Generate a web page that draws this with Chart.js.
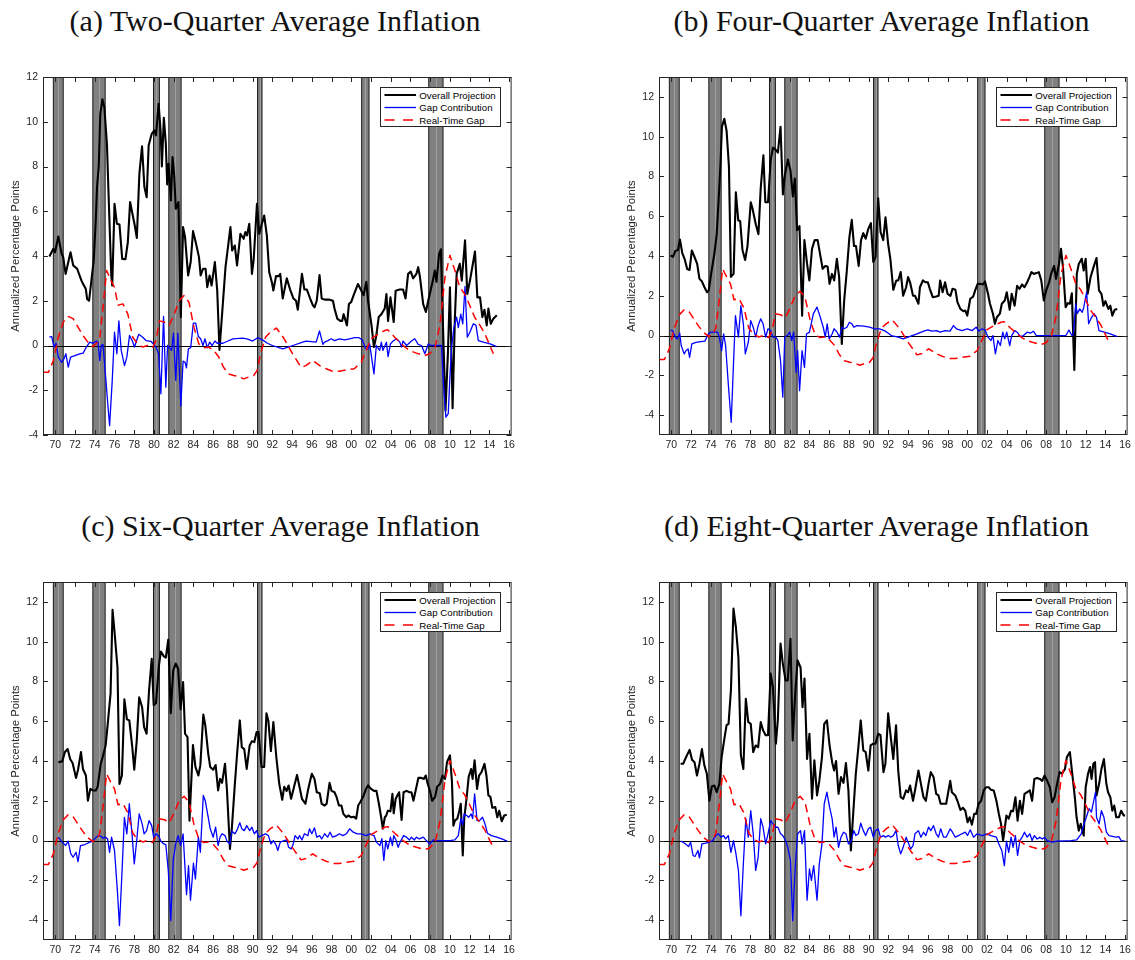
<!DOCTYPE html>
<html>
<head>
<meta charset="utf-8">
<script src="https://cdn.jsdelivr.net/npm/chart.js@4.4.1/dist/chart.umd.min.js"></script>
<style>
html,body{margin:0;padding:0;background:#fff;}
body{width:1135px;height:960px;overflow:hidden;position:relative;}
canvas{position:absolute;}
.ttl{position:absolute;font-family:"Liberation Serif","Times New Roman",serif;font-size:30px;line-height:1;color:#111;white-space:nowrap;transform:translateX(-50%);}
svg.leg{position:absolute;overflow:visible;}
</style>
</head>
<body>
<script>
// ---------------- data ----------------
const xTickValues = [1970,1972,1974,1976,1978,1980,1982,1984,1986,1988,1990,1992,1994,1996,1998,2000,2002,2004,2006,2008,2010,2012,2014,2016];
const xTickLabels = ['70','72','74','76','78','80','82','84','86','88','90','92','94','96','98','00','02','04','06','08','10','12','14','16'];
const yTicks = [-4,-2,0,2,4,6,8,10,12];
const seriesNames = ['Overall Projection','Gap Contribution','Real-Time Gap'];
const panelTitles = ['(a) Two-Quarter Average Inflation','(b) Four-Quarter Average Inflation','(c) Six-Quarter Average Inflation','(d) Eight-Quarter Average Inflation'];
const yAxisTitle = 'Annualized Percentage Points';

const recessions = [[1969.8,1970.8],[1973.8,1975.05],[1979.95,1980.55],[1981.5,1982.75],[1990.5,1990.95],[2001.05,2001.8],[2007.85,2009.3]];

const realTimeGap = [[1968.75,-1.2],[1969.3,-1.2],[1969.8,-0.67],[1970.3,0.37],[1970.8,1.04],[1971.3,1.3],[1971.8,1.2],[1972.3,0.82],[1972.8,0.45],[1973.3,0.15],[1973.8,-0.05],[1974.3,0.15],[1974.5,0.37],[1974.8,1.56],[1975.2,3.35],[1975.65,2.9],[1976.0,2.6],[1976.35,1.8],[1976.85,1.86],[1977.35,1.4],[1977.85,0.37],[1978.35,0.07],[1978.85,-0.07],[1979.35,0],[1979.85,-0.1],[1980.2,0.22],[1980.55,1.1],[1981.05,1.05],[1981.55,0.9],[1982.05,1.4],[1982.55,2.0],[1983.05,2.23],[1983.55,1.93],[1984.05,0.82],[1984.55,0.07],[1985.05,-0.1],[1985.55,-0.07],[1986.05,-0.22],[1986.55,-0.5],[1987.05,-0.97],[1987.55,-1.27],[1988.1,-1.34],[1988.6,-1.39],[1989.1,-1.49],[1989.6,-1.41],[1990.1,-1.34],[1990.45,-1.12],[1990.8,-0.37],[1991.3,0.37],[1991.8,0.6],[1992.4,0.78],[1992.8,0.55],[1993.2,0.3],[1994.05,-0.37],[1994.9,-0.97],[1995.4,-0.9],[1996.1,-0.67],[1996.8,-0.9],[1997.45,-1.04],[1998.1,-1.15],[1998.8,-1.15],[1999.5,-1.09],[2000.3,-1.04],[2001.0,-0.75],[2001.5,-0.22],[2002.0,0.3],[2002.7,0.5],[2003.4,0.67],[2003.7,0.7],[2004.4,0.37],[2005.25,0],[2005.9,-0.22],[2006.6,-0.34],[2007.45,-0.45],[2007.95,-0.37],[2008.5,-0.07],[2009.0,0.97],[2009.5,3.06],[2010.0,4.03],[2010.5,3.36],[2011.0,2.6],[2011.5,2.3],[2012.0,1.8],[2012.5,1.27],[2013.05,0.9],[2013.55,0.52],[2014.05,0],[2014.4,-0.37]];

const overallA = [[1969.4,3.98],[1969.8,4.32],[1969.97,4.17],[1970.3,4.87],[1970.64,4.1],[1970.8,3.95],[1971.04,3.2],[1971.54,4.17],[1971.81,3.58],[1972.21,3.43],[1972.65,2.9],[1972.82,2.75],[1973.09,2.53],[1973.22,2.08],[1973.42,2.0],[1973.89,3.8],[1974.1,5.6],[1974.23,7.1],[1974.4,8.0],[1974.56,10.36],[1974.77,11.0],[1974.97,10.65],[1975.23,9.0],[1975.44,6.18],[1975.67,3.13],[1975.77,2.68],[1976.0,6.33],[1976.24,5.44],[1976.5,5.41],[1976.78,3.87],[1977.11,3.86],[1977.35,4.62],[1977.58,6.41],[1977.85,5.81],[1978.02,5.44],[1978.26,4.81],[1978.52,7.67],[1978.79,8.9],[1979.03,7.08],[1979.26,6.63],[1979.46,8.94],[1979.77,9.46],[1980.03,9.61],[1980.2,9.39],[1980.47,10.8],[1980.67,9.61],[1980.8,8.0],[1981.0,10.18],[1981.2,9.02],[1981.34,7.2],[1981.48,8.12],[1981.71,6.48],[1981.88,8.42],[1982.05,7.6],[1982.21,6.11],[1982.48,6.41],[1982.72,1.27],[1982.95,5.29],[1983.15,4.84],[1983.46,3.13],[1983.72,3.73],[1983.96,5.11],[1984.23,4.62],[1984.56,3.95],[1984.73,3.13],[1984.97,3.43],[1985.23,3.43],[1985.4,2.61],[1985.64,3.13],[1985.84,2.68],[1986.17,3.73],[1986.41,2.46],[1986.64,-0.2],[1987.25,3.5],[1987.58,4.69],[1987.75,5.29],[1987.92,4.25],[1988.19,4.47],[1988.42,3.58],[1988.76,4.99],[1989.09,4.77],[1989.26,5.07],[1989.43,4.92],[1989.66,5.44],[1989.93,3.2],[1990.1,3.8],[1990.44,6.33],[1990.67,4.99],[1990.94,5.44],[1991.17,5.81],[1991.44,4.92],[1991.68,3.28],[1991.95,2.83],[1992.1,2.46],[1992.37,3.1],[1992.64,3.1],[1992.8,3.2],[1993.05,2.1],[1993.46,3.0],[1993.8,2.5],[1994.14,2.1],[1994.4,2.0],[1994.58,1.6],[1995.0,3.2],[1995.25,2.5],[1995.5,2.5],[1995.83,2.1],[1996.1,1.8],[1996.27,1.7],[1996.5,2.0],[1996.78,3.15],[1997.0,2.1],[1997.3,2.05],[1997.8,2.05],[1998.14,2.0],[1998.3,1.65],[1998.58,1.2],[1998.88,1.1],[1999.08,1.1],[1999.22,1.4],[1999.36,1.2],[1999.56,0.9],[1999.76,1.85],[2000.0,1.95],[2000.24,2.25],[2000.68,2.75],[2001.02,2.45],[2001.25,2.25],[2001.53,2.85],[2001.7,2.0],[2002.03,0.97],[2002.3,-0.07],[2002.54,0.45],[2002.78,1.27],[2003.05,1.4],[2003.39,1.65],[2003.56,2.3],[2003.73,1.1],[2003.97,2.15],[2004.3,1.05],[2004.5,2.45],[2004.9,2.5],[2005.25,2.5],[2005.5,2.1],[2005.76,3.2],[2006.03,3.3],[2006.27,3.0],[2006.6,3.2],[2006.78,3.5],[2006.95,3.1],[2007.29,1.85],[2007.56,1.5],[2007.8,2.0],[2008.24,2.85],[2008.47,3.35],[2008.64,2.85],[2008.9,4.1],[2009.08,4.3],[2009.3,0.8],[2009.55,-2.9],[2009.8,-0.3],[2010.0,2.6],[2010.27,-2.8],[2010.5,1.2],[2010.68,3.2],[2011.0,3.65],[2011.2,2.9],[2011.53,4.7],[2011.76,2.3],[2012.03,2.9],[2012.54,4.2],[2012.78,2.15],[2013.05,2.15],[2013.29,1.27],[2013.5,1.6],[2013.73,0.9],[2013.9,1.65],[2014.14,0.97],[2014.4,1.2],[2014.75,1.35]];

const gapA = [[1969.4,0.37],[1969.63,0.4],[1969.87,-0.07],[1970.07,0.1],[1970.3,-0.52],[1970.64,-0.75],[1970.87,-0.6],[1971.07,-0.37],[1971.31,-0.97],[1971.54,-0.52],[1971.98,-0.45],[1972.48,-0.37],[1972.82,-0.34],[1973.15,-0.07],[1973.49,0.15],[1973.83,0.1],[1974.16,0.2],[1974.33,0.15],[1974.5,-0.67],[1974.66,0],[1974.83,0.05],[1975.1,-1.4],[1975.34,-2.75],[1975.5,-3.58],[1975.77,-1.56],[1976.0,0.6],[1976.24,-0.37],[1976.44,1.1],[1976.68,-0.22],[1977.01,-0.9],[1977.25,-0.52],[1977.52,0.45],[1977.79,0.22],[1978.02,-0.07],[1978.46,0.5],[1978.86,0.37],[1979.19,0.22],[1979.7,0.18],[1979.93,0.07],[1980.2,-0.07],[1980.47,-0.37],[1980.7,-2.16],[1980.97,1.3],[1981.2,-1.86],[1981.38,0],[1981.78,-0.22],[1981.98,0.55],[1982.21,-1.56],[1982.42,0.55],[1982.72,-2.7],[1982.95,-0.7],[1983.15,-0.75],[1983.29,-1.0],[1983.49,-0.15],[1983.72,-0.1],[1983.99,1.0],[1984.23,1.0],[1984.5,0.4],[1984.73,0.3],[1984.97,0.0],[1985.17,0.3],[1985.4,-0.1],[1985.64,0.15],[1985.9,0.0],[1986.17,0.2],[1986.41,0.1],[1987.0,0.1],[1987.5,0.2],[1988.0,0.3],[1989.0,0.33],[1989.5,0.28],[1990.0,0.2],[1990.5,0.35],[1991.0,0.25],[1991.5,0.1],[1992.0,0.0],[1993.05,-0.15],[1994.07,0],[1995.08,0.15],[1995.42,0.2],[1996.44,0.15],[1996.78,0.65],[1997.12,0.05],[1997.29,0.15],[1997.63,0.22],[1997.97,0.3],[1998.3,0.22],[1998.81,0.3],[1999.32,0.25],[1999.83,0.3],[2000.34,0.35],[2000.78,0.35],[2001.12,0.25],[2001.46,-0.15],[2001.7,-0.15],[2001.86,0.07],[2002.3,-1.27],[2002.54,0],[2002.88,-0.22],[2003.05,0.15],[2003.2,-0.22],[2003.56,0.15],[2003.73,-0.5],[2003.97,0.07],[2004.24,0.2],[2004.58,0.3],[2004.92,0.15],[2005.08,-0.07],[2005.25,0.2],[2005.6,0],[2006.1,0.2],[2006.44,0.3],[2006.78,0.05],[2007.12,0],[2007.46,-0.37],[2007.8,0.07],[2008.07,0],[2009.15,0],[2009.32,-1.56],[2009.59,-3.2],[2009.83,-3.05],[2010.0,-1.4],[2010.17,-0.07],[2010.4,0.8],[2010.68,1.27],[2010.85,0.8],[2011.1,1.4],[2011.3,0.97],[2011.53,2.64],[2011.76,0.37],[2012.03,0.6],[2012.37,0.97],[2012.64,0.9],[2012.88,0.22],[2013.39,0.15],[2014.07,0.07],[2014.75,-0.05]];

const overallB = [[1969.93,4.03],[1970.17,3.95],[1970.4,4.25],[1970.67,4.3],[1970.87,4.83],[1971.11,4.15],[1971.34,3.86],[1971.61,3.35],[1971.85,3.3],[1972.08,4.28],[1972.35,3.95],[1972.62,3.6],[1972.85,2.85],[1973.09,2.73],[1973.36,2.43],[1973.62,2.18],[1973.79,2.26],[1974.03,3.1],[1974.36,4.1],[1974.6,5.1],[1974.77,6.6],[1974.97,8.5],[1975.13,10.5],[1975.37,10.9],[1975.6,10.3],[1975.84,8.5],[1976.04,2.95],[1976.31,3.1],[1976.54,7.2],[1976.78,5.8],[1976.98,5.75],[1977.21,4.3],[1977.48,3.8],[1977.72,4.5],[1978.05,6.7],[1978.22,6.4],[1978.56,5.6],[1978.83,5.1],[1979.06,7.4],[1979.33,9.06],[1979.53,6.7],[1979.8,6.7],[1980.07,8.8],[1980.3,9.45],[1980.57,9.35],[1980.8,9.2],[1981.07,10.5],[1981.31,7.1],[1981.51,8.05],[1981.81,8.85],[1982.08,8.3],[1982.32,7.0],[1982.52,7.9],[1982.75,5.3],[1982.99,5.5],[1983.26,1.0],[1983.49,4.8],[1983.76,3.6],[1983.99,2.77],[1984.26,4.36],[1984.53,4.8],[1984.83,4.8],[1985.1,4.03],[1985.34,3.36],[1985.6,3.5],[1985.84,3.47],[1986.04,2.6],[1986.28,3.1],[1986.51,2.77],[1986.78,3.86],[1987.01,2.94],[1987.28,-0.42],[1987.52,1.76],[1987.79,3.27],[1988.05,4.95],[1988.29,5.82],[1988.52,4.5],[1988.72,4.5],[1988.99,3.5],[1989.23,4.8],[1989.46,5.15],[1989.7,4.87],[1989.97,5.37],[1990.23,5.65],[1990.47,3.7],[1990.7,3.95],[1990.97,6.9],[1991.21,5.2],[1991.48,4.8],[1991.71,5.95],[1991.98,4.6],[1992.2,3.86],[1992.5,2.3],[1992.8,2.77],[1993.0,2.77],[1993.25,3.19],[1993.5,2.0],[1993.8,2.43],[1994.0,2.94],[1994.2,2.68],[1994.5,2.0],[1994.7,2.0],[1995.05,1.6],[1995.2,2.43],[1995.5,2.77],[1995.75,2.68],[1996.0,2.68],[1996.2,2.35],[1996.5,1.93],[1996.85,1.96],[1997.1,2.0],[1997.25,2.77],[1997.5,2.18],[1997.75,2.68],[1998.0,2.1],[1998.3,2.0],[1998.5,2.35],[1998.8,2.3],[1999.0,1.68],[1999.3,1.34],[1999.6,1.22],[1999.8,1.26],[2000.0,1.0],[2000.3,1.85],[2000.6,1.96],[2000.8,2.27],[2001.05,2.6],[2001.3,2.6],[2001.6,2.57],[2001.8,2.72],[2002.1,2.1],[2002.3,1.6],[2002.6,1.1],[2002.8,0.59],[2003.0,0.92],[2003.3,1.1],[2003.5,1.6],[2003.8,1.76],[2004.0,2.18],[2004.3,1.3],[2004.5,2.1],[2004.8,1.5],[2005.05,2.5],[2005.3,2.35],[2005.55,2.57],[2005.8,2.43],[2006.07,2.68],[2006.3,2.94],[2006.5,3.19],[2006.75,3.1],[2007.0,3.14],[2007.25,3.19],[2007.5,2.77],[2007.76,1.76],[2008.0,2.27],[2008.3,2.68],[2008.5,3.1],[2008.8,3.5],[2009.0,2.85],[2009.3,3.6],[2009.5,4.36],[2009.7,3.44],[2009.97,1.43],[2010.2,1.63],[2010.4,1.6],[2010.6,2.13],[2010.85,-1.73],[2011.1,3.1],[2011.3,3.6],[2011.6,3.86],[2011.8,3.27],[2012.0,3.86],[2012.2,2.1],[2012.5,2.94],[2012.8,3.44],[2013.1,3.9],[2013.35,2.27],[2013.6,2.1],[2013.8,1.5],[2014.0,1.73],[2014.3,1.34],[2014.5,1.5],[2014.7,1.0],[2014.95,1.3],[2015.2,1.34]];

const gapB = [[1969.93,0.28],[1970.17,0.22],[1970.4,-0.08],[1970.6,-0.17],[1970.85,0.12],[1971.0,-0.5],[1971.3,-0.92],[1971.5,-0.75],[1971.7,-0.67],[1971.85,-1.1],[1972.08,-0.42],[1972.5,-0.34],[1973.0,-0.3],[1973.4,-0.28],[1973.75,0.08],[1974.0,0.17],[1974.4,0.17],[1974.7,0.17],[1974.9,-0.17],[1975.1,-0.76],[1975.3,0.08],[1975.5,-0.5],[1975.8,-2.6],[1976.07,-4.36],[1976.3,-1.43],[1976.5,1.0],[1976.8,-0.08],[1977.05,1.5],[1977.3,0.59],[1977.5,-0.92],[1977.8,-0.34],[1978.05,0.75],[1978.3,0.42],[1978.55,-0.08],[1978.8,0.5],[1979.06,0.84],[1979.3,0.59],[1979.56,-0.08],[1979.8,0.34],[1980.07,0.25],[1980.3,-0.08],[1980.6,-0.08],[1980.8,-0.25],[1981.07,-1.26],[1981.3,-3.1],[1981.5,-0.08],[1981.75,0],[1982.0,0.17],[1982.2,-0.25],[1982.4,0.17],[1982.65,-1.85],[1982.8,-0.76],[1983.0,-2.77],[1983.25,-0.76],[1983.5,-1.6],[1983.7,0.08],[1984.0,0.17],[1984.4,1.1],[1984.77,1.43],[1985.1,0.92],[1985.4,0.42],[1985.6,-0.08],[1985.8,0.59],[1986.0,-0.17],[1986.3,0.08],[1986.5,0.34],[1986.8,0.17],[1987.05,-0.08],[1987.3,0.42],[1987.5,0.34],[1987.8,0.42],[1988.05,0.67],[1988.3,0.59],[1988.5,0.42],[1988.8,0.5],[1989.5,0.47],[1990.1,0.42],[1990.6,0.34],[1991.1,0.34],[1991.6,0.25],[1992.0,0.12],[1992.3,0],[1993.0,-0.08],[1993.5,-0.17],[1994.0,-0.08],[1994.9,0.08],[1995.6,0.22],[1996.0,0.28],[1996.4,0.22],[1996.9,0.25],[1997.25,0.17],[1997.75,0.25],[1998.25,0.22],[1998.6,0.5],[1998.9,0.34],[1999.45,0.25],[2000.0,0.34],[2000.5,0.25],[2000.9,0.42],[2001.15,0.22],[2001.5,0.34],[2001.8,0.28],[2002.1,-0.08],[2002.4,-0.25],[2002.6,0],[2002.85,-0.92],[2003.1,-0.25],[2003.35,-0.5],[2003.6,0.17],[2003.8,-0.17],[2004.0,0.17],[2004.3,-0.5],[2004.5,0],[2004.8,0.25],[2005.05,0.17],[2005.4,-0.05],[2005.7,0],[2006.07,0.17],[2006.4,0.12],[2006.7,0.22],[2007.0,0],[2007.8,0],[2010.0,0],[2010.3,0.28],[2010.6,0],[2010.75,0.05],[2011.0,1.6],[2011.15,1.1],[2011.4,1.34],[2011.65,1.17],[2011.8,1.4],[2012.1,2.18],[2012.3,0.59],[2012.6,0.92],[2012.85,1.1],[2013.1,0.92],[2013.35,0.25],[2013.9,0.17],[2014.5,0.08],[2015.2,-0.05]];

const overallC = [[1970.3,3.94],[1970.7,3.98],[1970.97,4.45],[1971.25,4.6],[1971.5,4.1],[1971.75,3.9],[1972.1,3.15],[1972.3,3.56],[1972.6,4.45],[1972.8,3.6],[1973.1,3.27],[1973.3,2.0],[1973.55,2.6],[1973.8,2.52],[1974.1,2.52],[1974.3,2.72],[1974.6,3.86],[1974.8,4.2],[1975.1,4.78],[1975.3,5.8],[1975.6,7.4],[1975.8,11.6],[1976.0,10.5],[1976.3,8.7],[1976.5,2.85],[1976.75,3.27],[1977.0,7.1],[1977.25,6.1],[1977.5,6.04],[1977.8,4.7],[1978.0,3.56],[1978.25,5.0],[1978.5,7.2],[1978.8,6.7],[1979.0,5.7],[1979.25,5.37],[1979.5,7.55],[1979.77,9.14],[1979.97,6.8],[1980.2,6.9],[1980.5,8.8],[1980.7,9.5],[1981.0,9.26],[1981.2,9.2],[1981.45,10.1],[1981.7,6.4],[1981.95,8.56],[1982.2,8.9],[1982.45,8.64],[1982.7,6.6],[1982.95,7.97],[1983.15,5.37],[1983.4,5.2],[1983.6,1.0],[1983.95,4.8],[1984.2,3.7],[1984.5,3.27],[1984.7,3.78],[1985.0,6.34],[1985.2,5.8],[1985.5,4.36],[1985.7,3.7],[1986.0,3.56],[1986.25,3.8],[1986.5,2.52],[1986.7,3.1],[1986.9,2.9],[1987.2,3.86],[1987.4,2.52],[1987.7,-0.42],[1987.9,0.67],[1988.2,2.85],[1988.4,4.2],[1988.7,6.04],[1988.9,4.7],[1989.15,4.6],[1989.4,3.6],[1989.7,4.78],[1989.93,5.0],[1990.17,4.95],[1990.4,5.45],[1990.6,5.45],[1990.9,3.7],[1991.17,3.7],[1991.4,6.4],[1991.6,6.0],[1991.85,4.5],[1992.1,5.96],[1992.4,4.2],[1992.7,2.85],[1993.0,2.05],[1993.2,2.7],[1993.45,2.5],[1993.65,2.77],[1993.9,2.1],[1994.2,2.7],[1994.5,3.3],[1994.75,2.7],[1995.0,2.1],[1995.35,1.85],[1995.6,2.5],[1995.8,2.94],[1996.0,3.36],[1996.27,3.1],[1996.5,2.43],[1996.8,2.38],[1997.0,1.85],[1997.3,1.76],[1997.5,1.85],[1997.8,2.9],[1998.0,2.5],[1998.3,2.43],[1998.5,2.2],[1998.75,1.76],[1999.0,1.76],[1999.2,1.34],[1999.5,1.17],[1999.7,1.26],[2000.0,1.17],[2000.24,1.2],[2000.5,1.1],[2000.7,1.76],[2000.9,1.93],[2001.2,2.2],[2001.5,2.6],[2001.7,2.77],[2002.0,2.6],[2002.3,2.5],[2002.55,2.5],[2002.8,1.85],[2003.05,1.1],[2003.2,0.6],[2003.4,1.17],[2003.55,1.26],[2003.7,1.5],[2003.97,1.47],[2004.17,2.35],[2004.3,1.37],[2004.5,2.1],[2004.85,2.43],[2005.1,1.04],[2005.3,2.43],[2005.6,2.5],[2005.9,2.43],[2006.1,2.43],[2006.3,2.0],[2006.8,3.15],[2007.1,3.15],[2007.35,3.1],[2007.55,3.27],[2007.7,2.94],[2007.97,2.5],[2008.2,2.0],[2008.5,2.2],[2008.7,2.7],[2009.0,2.85],[2009.25,3.27],[2009.5,3.1],[2009.7,3.94],[2010.0,4.28],[2010.2,3.0],[2010.35,0.75],[2010.5,1.0],[2010.75,1.1],[2010.95,1.5],[2011.1,1.85],[2011.3,-0.75],[2011.45,1.1],[2011.7,2.2],[2011.9,3.2],[2012.15,3.6],[2012.3,3.1],[2012.5,4.03],[2012.75,2.6],[2012.95,3.27],[2013.2,3.44],[2013.5,3.86],[2013.7,3.27],[2013.9,2.27],[2014.1,2.2],[2014.3,1.65],[2014.6,1.68],[2014.8,1.17],[2015.0,1.5],[2015.25,0.97],[2015.5,1.26],[2015.76,1.3]];

const gapC = [[1970.3,0.17],[1970.6,-0.03],[1970.8,-0.13],[1971.05,-0.25],[1971.3,-0.03],[1971.55,-0.64],[1971.8,-0.84],[1972.1,-0.59],[1972.3,-1.06],[1972.55,-0.25],[1973.0,-0.2],[1973.5,-0.08],[1973.8,-0.03],[1974.2,0.2],[1974.4,0.25],[1974.7,0.2],[1974.8,0.12],[1975.1,0.17],[1975.3,0.08],[1975.5,-0.59],[1975.7,0.17],[1976.0,-0.5],[1976.3,-2.6],[1976.5,-4.28],[1976.75,-1.68],[1977.0,1.17],[1977.25,0.34],[1977.5,1.85],[1977.8,0.17],[1978.0,-1.17],[1978.25,0],[1978.5,1.34],[1978.8,0.84],[1979.0,0.34],[1979.25,0.5],[1979.5,1.0],[1979.77,0.75],[1979.97,0.17],[1980.2,0.34],[1980.5,0.2],[1980.7,-0.03],[1981.0,-0.17],[1981.2,-0.2],[1981.45,-1.5],[1981.7,-4.03],[1981.95,-1.0],[1982.2,-0.17],[1982.45,0.25],[1982.7,-0.25],[1982.95,0.34],[1983.3,-2.72],[1983.5,-1.26],[1983.7,-3.0],[1984.0,-1.14],[1984.2,-1.93],[1984.5,0.17],[1984.7,-0.59],[1985.0,2.27],[1985.2,2.0],[1985.5,1.17],[1985.7,0.59],[1986.0,0.17],[1986.25,0.67],[1986.5,-0.25],[1986.7,0.17],[1986.9,0.34],[1987.2,0.25],[1987.4,-0.03],[1987.7,-0.17],[1987.9,0.47],[1988.2,0.34],[1988.4,0.5],[1988.7,0.9],[1988.9,0.59],[1989.15,0.5],[1989.4,0.75],[1989.7,0.5],[1989.93,0.67],[1990.17,0.34],[1990.4,0.5],[1990.6,0.17],[1990.9,0.25],[1991.3,0.34],[1991.6,0.25],[1991.86,-0.17],[1992.1,0],[1992.4,-0.25],[1992.55,-0.5],[1992.8,-0.08],[1993.05,-0.03],[1993.45,0.03],[1993.65,-0.34],[1993.9,-0.42],[1994.07,-0.25],[1994.3,0.25],[1994.6,0.08],[1994.75,0.25],[1995.0,0.03],[1995.25,0.34],[1995.6,0.25],[1995.76,0.59],[1996.0,0.34],[1996.27,0.64],[1996.5,0.17],[1996.8,0.25],[1997.0,0.08],[1997.3,0.34],[1997.6,0.17],[1997.85,0.42],[1998.1,0.17],[1998.5,0.25],[1998.8,0.34],[1999.15,0.25],[1999.5,0.34],[1999.83,0.59],[2000.2,0.42],[2000.6,0.34],[2001.0,0.34],[2001.5,0.25],[2001.9,0.34],[2002.3,0.25],[2002.55,-0.08],[2002.9,-0.25],[2003.1,0.1],[2003.3,-1.0],[2003.5,0],[2003.7,-0.42],[2003.97,0.17],[2004.17,-0.25],[2004.3,0.25],[2004.55,0],[2004.75,-0.34],[2004.95,-0.08],[2005.3,0.25],[2005.6,0.17],[2005.9,0.03],[2006.1,0.17],[2006.4,0.03],[2006.6,0.17],[2006.9,0.08],[2007.3,0.17],[2007.6,0],[2007.97,-0.17],[2008.3,0.03],[2008.6,0],[2010.0,0],[2010.5,0.03],[2010.85,0.25],[2011.1,1.1],[2011.3,0.8],[2011.45,1.34],[2011.7,1.26],[2011.9,1.17],[2012.15,1.34],[2012.3,1.1],[2012.5,2.35],[2012.75,1.0],[2013.0,1.0],[2013.3,1.17],[2013.55,0.84],[2013.8,0.37],[2014.2,0.25],[2014.75,0.17],[2015.25,0.08],[2015.8,-0.03]];

const overallD = [[1970.94,3.86],[1971.2,3.86],[1971.5,4.2],[1971.85,4.56],[1972.1,4.06],[1972.35,3.94],[1972.6,3.27],[1972.85,3.86],[1973.1,4.6],[1973.35,3.78],[1973.6,3.36],[1973.86,2.0],[1974.1,2.72],[1974.36,2.77],[1974.6,2.43],[1974.87,2.85],[1975.1,4.2],[1975.37,5.1],[1975.6,5.8],[1975.8,5.87],[1976.04,7.55],[1976.3,11.66],[1976.55,10.7],[1976.8,9.2],[1977.05,4.28],[1977.3,3.6],[1977.55,7.13],[1977.8,5.96],[1978.05,5.87],[1978.3,4.45],[1978.55,4.78],[1978.8,4.7],[1979.06,5.96],[1979.3,5.54],[1979.56,5.3],[1979.8,5.3],[1980.07,8.4],[1980.3,7.7],[1980.6,4.87],[1980.8,6.1],[1981.07,9.9],[1981.3,8.9],[1981.58,8.05],[1981.8,8.05],[1982.08,10.15],[1982.3,5.03],[1982.58,7.55],[1982.8,9.06],[1983.1,8.7],[1983.3,6.7],[1983.5,8.14],[1983.76,4.1],[1984.0,5.37],[1984.26,2.1],[1984.5,4.03],[1984.77,2.27],[1985.0,3.0],[1985.27,4.2],[1985.5,5.87],[1985.77,6.04],[1986.04,4.78],[1986.3,3.94],[1986.5,3.52],[1986.7,4.0],[1986.95,2.35],[1987.2,3.19],[1987.45,2.9],[1987.7,3.9],[1987.95,2.52],[1988.2,-0.5],[1988.5,1.85],[1988.7,3.36],[1988.96,4.7],[1989.2,6.04],[1989.46,4.53],[1989.7,4.45],[1989.97,3.52],[1990.2,4.78],[1990.47,4.87],[1990.7,4.87],[1990.97,5.37],[1991.2,5.3],[1991.5,3.44],[1991.7,3.86],[1991.98,6.4],[1992.24,5.2],[1992.5,4.1],[1992.78,5.8],[1993.0,3.52],[1993.25,2.18],[1993.5,2.1],[1993.8,2.52],[1994.0,2.43],[1994.2,2.77],[1994.5,2.0],[1994.7,2.52],[1995.05,3.52],[1995.3,2.85],[1995.56,2.18],[1995.8,2.0],[1996.07,2.85],[1996.3,3.44],[1996.58,3.19],[1996.85,2.35],[1997.08,2.27],[1997.3,1.85],[1997.6,1.85],[1997.86,1.85],[1998.1,2.52],[1998.27,3.0],[1998.44,2.43],[1998.78,2.27],[1999.0,2.0],[1999.3,1.54],[1999.55,1.65],[1999.8,1.5],[2000.03,0.92],[2000.24,1.17],[2000.47,0.8],[2000.7,1.34],[2000.9,1.34],[2001.15,1.85],[2001.4,2.0],[2001.66,2.52],[2001.9,2.68],[2002.17,2.68],[2002.4,2.55],[2002.68,2.52],[2002.95,2.0],[2003.2,1.34],[2003.42,0.84],[2003.63,0],[2003.97,1.26],[2004.2,1.1],[2004.44,1.5],[2004.64,1.47],[2004.88,2.18],[2005.1,1.0],[2005.33,2.0],[2005.56,1.34],[2005.8,2.35],[2006.07,2.43],[2006.34,2.52],[2006.57,2.0],[2006.8,3.1],[2007.08,3.15],[2007.35,3.1],[2007.6,3.0],[2007.83,3.27],[2008.1,3.0],[2008.37,2.68],[2008.6,1.93],[2008.85,2.18],[2009.1,2.85],[2009.36,3.44],[2009.6,3.36],[2009.9,3.6],[2010.1,4.2],[2010.4,4.45],[2010.64,3.36],[2010.9,2.18],[2011.08,1.17],[2011.3,0.5],[2011.5,0.84],[2011.8,0.25],[2012.0,2.68],[2012.24,3.36],[2012.44,3.7],[2012.6,3.1],[2012.78,3.86],[2012.95,3.94],[2013.1,2.27],[2013.36,2.85],[2013.6,3.6],[2013.85,4.1],[2014.1,2.85],[2014.27,2.43],[2014.5,2.18],[2014.7,1.5],[2014.9,1.76],[2015.1,1.17],[2015.36,1.17],[2015.6,1.5],[2015.86,1.26],[2016.0,1.26]];

const gapD = [[1970.94,-0.03],[1971.2,-0.08],[1971.5,-0.2],[1971.75,-0.3],[1971.95,-0.08],[1972.2,-0.75],[1972.4,-0.8],[1972.7,-0.5],[1972.85,-0.87],[1973.1,-0.17],[1973.5,-0.13],[1973.86,-0.08],[1974.2,0],[1974.5,0.25],[1974.77,0.34],[1975.03,0.17],[1975.3,0.25],[1975.5,0.08],[1975.77,0.25],[1976.04,-0.59],[1976.3,0],[1976.55,-0.67],[1976.8,-1.5],[1977.05,-3.78],[1977.3,-1.17],[1977.55,1.1],[1977.8,0.17],[1978.05,1.5],[1978.3,0.34],[1978.55,-1.5],[1978.8,-0.84],[1979.06,1.1],[1979.3,0.67],[1979.56,-0.17],[1979.8,0.34],[1980.07,1.0],[1980.3,0.84],[1980.6,0.67],[1980.8,0.67],[1981.07,0.34],[1981.3,0.25],[1981.58,0],[1981.8,-0.34],[1982.08,-1.0],[1982.3,-4.03],[1982.58,-1.17],[1982.8,0.34],[1983.1,0.5],[1983.25,-0.17],[1983.5,0.5],[1983.76,-3.0],[1984.0,-1.43],[1984.2,-2.0],[1984.43,-1.26],[1984.77,-3.0],[1985.0,-1.17],[1985.27,-0.17],[1985.5,1.85],[1985.77,2.43],[1986.04,1.68],[1986.3,1.1],[1986.5,0.17],[1986.7,0.67],[1986.95,-0.34],[1987.2,0.17],[1987.45,0.42],[1987.7,0.34],[1987.95,-0.17],[1988.2,-0.08],[1988.5,0.5],[1988.7,0.25],[1988.96,0.34],[1989.2,0.87],[1989.46,0.5],[1989.7,0.25],[1989.97,0.59],[1990.2,0.67],[1990.47,0.17],[1990.7,0.5],[1990.97,0.59],[1991.2,0.17],[1991.5,0.25],[1991.7,0.17],[1992.0,0.25],[1992.24,0.17],[1992.5,0.25],[1992.78,0.5],[1993.0,-0.25],[1993.25,-0.67],[1993.5,-0.34],[1993.8,0.17],[1994.0,-0.08],[1994.27,-0.42],[1994.5,-0.25],[1994.7,0.34],[1995.05,0.5],[1995.3,0.17],[1995.56,0.42],[1995.8,0.25],[1996.07,0.67],[1996.3,0.5],[1996.58,0.75],[1996.85,0.34],[1997.08,0.17],[1997.3,0.59],[1997.6,0.17],[1997.86,0.17],[1998.27,0.59],[1998.5,0.42],[1998.78,0.17],[1999.1,0.25],[1999.45,0.34],[1999.8,0.42],[2000.03,0.25],[2000.3,0.54],[2000.64,0.17],[2001.0,0.34],[2001.5,0.25],[2002.0,0.34],[2002.4,0.25],[2002.95,0.17],[2003.2,-0.17],[2003.5,-0.5],[2003.76,-1.26],[2003.97,-0.03],[2004.2,-0.59],[2004.44,0.17],[2004.64,-0.34],[2004.88,0.25],[2005.1,-0.75],[2005.33,0],[2005.56,0.17],[2005.8,0.42],[2006.07,0.17],[2006.34,0.34],[2006.57,0],[2006.8,0.25],[2007.08,0.08],[2007.35,0.17],[2007.6,0.08],[2007.83,0.17],[2008.1,0],[2008.6,-0.08],[2009.1,-0.03],[2010.5,0],[2011.1,0.03],[2011.55,0.34],[2011.83,0.84],[2012.07,1.17],[2012.34,1.6],[2012.58,1.43],[2013.0,2.43],[2013.1,1.17],[2013.36,0.84],[2013.6,1.5],[2013.85,1.17],[2014.1,0.42],[2014.37,0.25],[2015.05,0.17],[2015.36,0.2],[2015.6,0],[2016.0,-0.03]];

// ---------------- layout ----------------
const X_MIN = 1968.75, X_MAX = 2016.25;
const PLOT_W = 469, PLOT_H = 358;
const AX_W = 60, PAD_TOP = 20, PAD_RIGHT = 7, AX_H = 30;
const panels = [
  {title: panelTitles[0], overall: overallA, gap: gapA, L: 43,  T: 77,  yMin: -4, yMax: 12, tx: 275,   ty: 6},
  {title: panelTitles[1], overall: overallB, gap: gapB, L: 659, T: 77,  yMin: -5, yMax: 13, tx: 881.5, ty: 6},
  {title: panelTitles[2], overall: overallC, gap: gapC, L: 43,  T: 582, yMin: -5, yMax: 13, tx: 280.5, ty: 511},
  {title: panelTitles[3], overall: overallD, gap: gapD, L: 659, T: 582, yMin: -5, yMax: 13, tx: 876.5, ty: 511}
];
const AXIS_COLOR = '#262626';
const FONT = '"Liberation Sans", Arial, Helvetica, sans-serif';

const framePlugin = {
  id: 'frame',
  beforeDatasetsDraw(chart) {
    const {ctx, chartArea: a, scales: {x, y}} = chart;
    ctx.save();
    ctx.beginPath(); ctx.rect(a.left, a.top, a.right - a.left, a.bottom - a.top); ctx.clip();
    for (const [s, e] of recessions) {
      const x0 = x.getPixelForValue(s), x1 = x.getPixelForValue(e);
      ctx.fillStyle = '#808080';
      ctx.fillRect(x0, a.top, x1 - x0, a.bottom - a.top);
      // faint lighter streak in the middle of each shaded band
      const xm = Math.round((x0 + x1) / 2) + 0.5;
      ctx.strokeStyle = 'rgba(200,200,200,0.45)'; ctx.lineWidth = 1;
      ctx.beginPath(); ctx.moveTo(xm, a.top); ctx.lineTo(xm, a.bottom); ctx.stroke();
      ctx.strokeStyle = '#1a1a1a'; ctx.lineWidth = 1;
      ctx.strokeRect(x0, a.top, x1 - x0, a.bottom - a.top);
    }
    const y0 = Math.round(y.getPixelForValue(0)) + 0.5;
    ctx.strokeStyle = '#000'; ctx.lineWidth = 1;
    ctx.beginPath(); ctx.moveTo(a.left, y0); ctx.lineTo(a.right, y0); ctx.stroke();
    ctx.restore();
  },
  afterDraw(chart) {
    const {ctx, chartArea: a, scales: {x, y}} = chart;
    ctx.save();
    ctx.strokeStyle = AXIS_COLOR; ctx.lineWidth = 1;
    ctx.strokeRect(a.left + 0.5, a.top + 0.5, a.right - a.left - 1, a.bottom - a.top - 1);
    ctx.beginPath();
    for (const v of xTickValues) {
      const px = Math.round(x.getPixelForValue(v)) + 0.5;
      ctx.moveTo(px, a.bottom); ctx.lineTo(px, a.bottom - 5);
      ctx.moveTo(px, a.top); ctx.lineTo(px, a.top + 5);
    }
    for (const v of yTicks) {
      const py = Math.round(y.getPixelForValue(v)) + 0.5;
      ctx.moveTo(a.left, py); ctx.lineTo(a.left + 5, py);
      ctx.moveTo(a.right, py); ctx.lineTo(a.right - 5, py);
    }
    ctx.stroke();
    ctx.restore();
  }
};

const toXY = arr => arr.map(([x, y]) => ({x, y}));

panels.forEach((p, idx) => {
  const cv = document.createElement('canvas');
  cv.width = AX_W + PLOT_W + PAD_RIGHT;
  cv.height = PAD_TOP + PLOT_H + AX_H;
  cv.style.left = (p.L - AX_W) + 'px';
  cv.style.top = (p.T - PAD_TOP) + 'px';
  cv.style.width = cv.width + 'px';
  cv.style.height = cv.height + 'px';
  document.body.appendChild(cv);

  const t = document.createElement('div');
  t.className = 'ttl';
  t.textContent = p.title;
  t.style.left = p.tx + 'px';
  t.style.top = p.ty + 'px';
  document.body.appendChild(t);

  new Chart(cv.getContext('2d'), {
    type: 'line',
    data: {
      datasets: [
        {label: seriesNames[0], data: toXY(p.overall), borderColor: '#000000', borderWidth: 2.1, order: 2},
        {label: seriesNames[1], data: toXY(p.gap), borderColor: '#0000ff', borderWidth: 1.3, order: 1},
        {label: seriesNames[2], data: toXY(realTimeGap), borderColor: '#ff0000', borderWidth: 1.5, borderDash: [8, 5], order: 0}
      ]
    },
    options: {
      responsive: false,
      animation: false,
      events: [],
      layout: {padding: {top: PAD_TOP, right: PAD_RIGHT, left: 0, bottom: 0}},
      elements: {point: {radius: 0}, line: {tension: 0, borderJoinStyle: 'round', borderCapStyle: 'butt', fill: false}},
      plugins: {legend: {display: false}, tooltip: {enabled: false}, title: {display: false}},
      scales: {
        x: {
          type: 'linear', min: X_MIN, max: X_MAX,
          grid: {display: false, drawTicks: false}, border: {display: false},
          afterBuildTicks: ax => { ax.ticks = xTickValues.map(v => ({value: v})); },
          afterFit: ax => { ax.height = AX_H; },
          ticks: {autoSkip: false, maxRotation: 0, minRotation: 0, padding: 4, color: AXIS_COLOR,
                  font: {family: FONT, size: 10.5},
                  callback: (v, i) => xTickLabels[i]}
        },
        y: {
          min: p.yMin, max: p.yMax,
          grid: {display: false, drawTicks: false}, border: {display: false},
          afterBuildTicks: ax => { ax.ticks = yTicks.map(v => ({value: v})); },
          afterFit: ax => { ax.width = AX_W; },
          ticks: {padding: 5, color: AXIS_COLOR, font: {family: FONT, size: 10.5}},
          title: {display: true, text: yAxisTitle, color: AXIS_COLOR,
                  font: {family: FONT, size: 11.3}, padding: {top: 26.5, bottom: 0}}
        }
      }
    },
    plugins: [framePlugin]
  });

  // legend box (top-right inside plot area)
  const NS = 'http://www.w3.org/2000/svg';
  const W = 121, H = 40;
  const svg = document.createElementNS(NS, 'svg');
  svg.setAttribute('class', 'leg');
  svg.setAttribute('width', W); svg.setAttribute('height', H);
  svg.style.left = (p.L + PLOT_W - 11 - W) + 'px';
  svg.style.top = (p.T + 10) + 'px';
  const rect = document.createElementNS(NS, 'rect');
  rect.setAttribute('x', 0.5); rect.setAttribute('y', 0.5);
  rect.setAttribute('width', W - 1); rect.setAttribute('height', H - 1);
  rect.setAttribute('fill', '#fff'); rect.setAttribute('stroke', AXIS_COLOR); rect.setAttribute('stroke-width', 1);
  svg.appendChild(rect);
  const styles = [
    {c: '#000000', w: 2, d: ''},
    {c: '#0000ff', w: 1.3, d: ''},
    {c: '#ff0000', w: 1.5, d: '10,8.5'}
  ];
  [8, 20.5, 33].forEach((ry, k) => {
    const ln = document.createElementNS(NS, 'line');
    ln.setAttribute('x1', 4.5); ln.setAttribute('x2', 36);
    ln.setAttribute('y1', ry); ln.setAttribute('y2', ry);
    ln.setAttribute('stroke', styles[k].c); ln.setAttribute('stroke-width', styles[k].w);
    if (styles[k].d) ln.setAttribute('stroke-dasharray', styles[k].d);
    svg.appendChild(ln);
    const tx = document.createElementNS(NS, 'text');
    tx.setAttribute('x', 39.3); tx.setAttribute('y', ry + 3.5);
    tx.setAttribute('font-family', 'Liberation Sans, Arial, sans-serif');
    tx.setAttribute('font-size', '9.7');
    tx.setAttribute('fill', '#000');
    tx.textContent = seriesNames[k];
    svg.appendChild(tx);
  });
  document.body.appendChild(svg);
});
</script>
</body>
</html>
